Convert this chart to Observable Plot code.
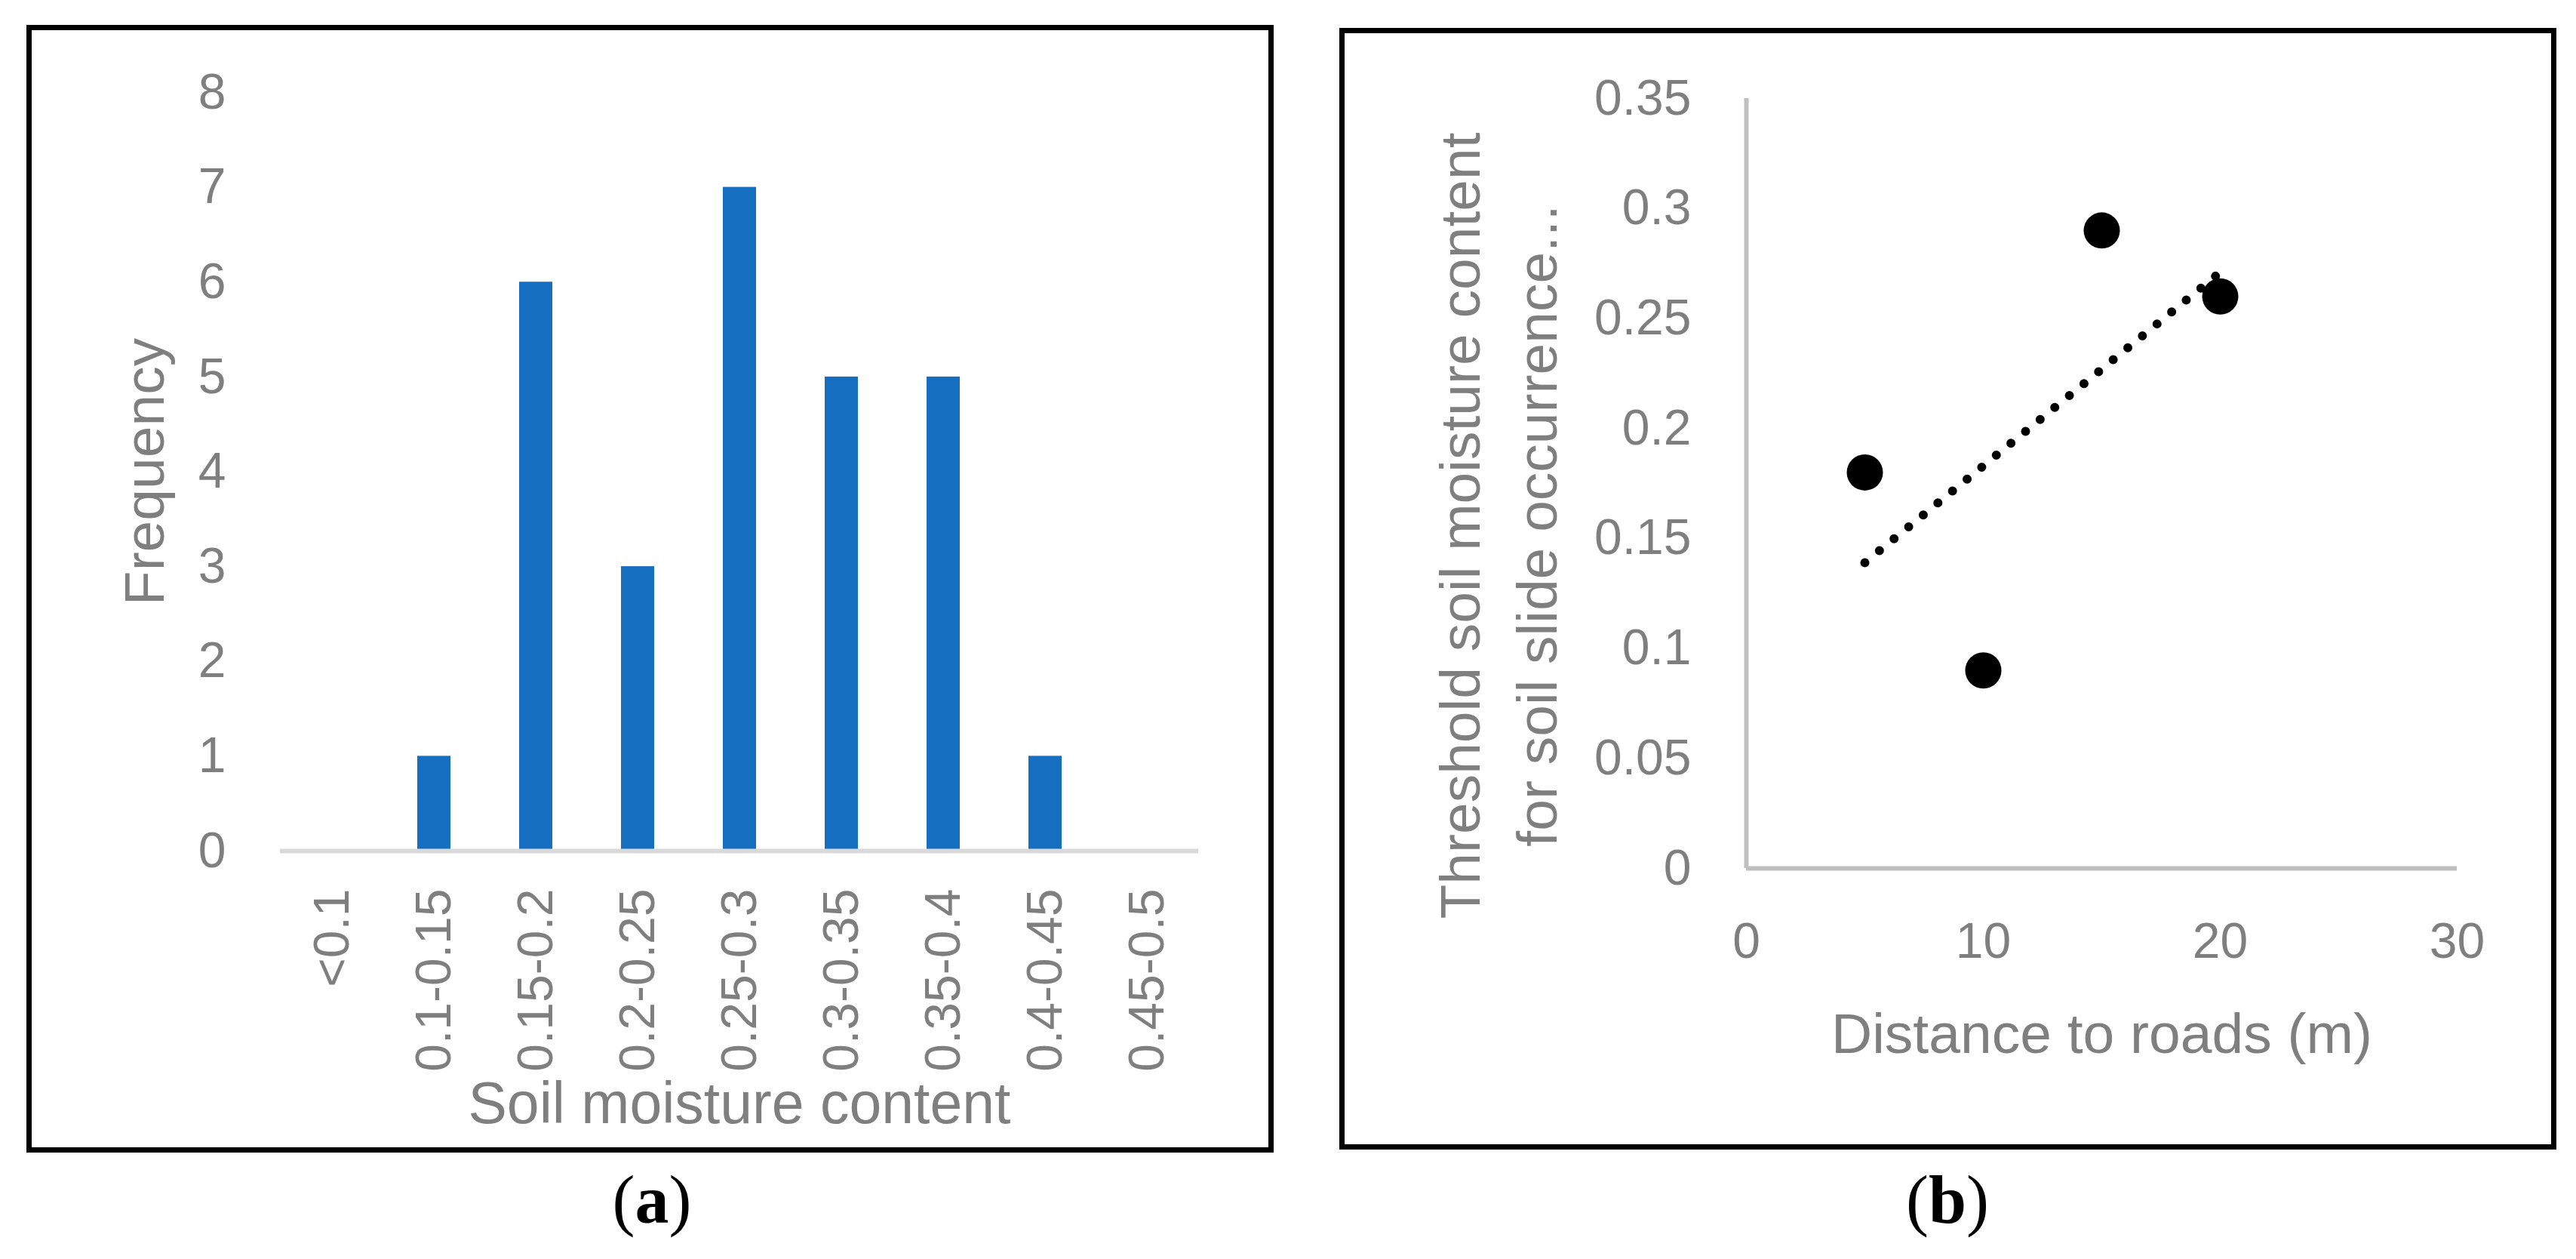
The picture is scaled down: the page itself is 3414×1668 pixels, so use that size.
<!DOCTYPE html>
<html>
<head>
<meta charset="utf-8">
<script src="https://cdn.jsdelivr.net/npm/d3@7"></script>
<script src="https://cdn.jsdelivr.net/npm/@observablehq/plot@0.6"></script>
<style>
html, body { margin: 0; padding: 0; background: #fff; overflow: hidden; }
#page { position: relative; width: 3414px; height: 1668px; background: #fff; }
.panel { position: absolute; top: 0; }
.box { position: absolute; border: 7px solid #000; box-sizing: border-box; pointer-events: none; }
.cap { position: absolute; font-family: "Liberation Serif", "Times New Roman", serif; font-size: 90px; line-height: 90px; transform: translateX(-50%); white-space: nowrap; color: #000; }
</style>
</head>
<body>
<div id="page"></div>
<script>
// ---- data: panel (a) histogram ----
const categories = ["<0.1", "0.1-0.15", "0.15-0.2", "0.2-0.25", "0.25-0.3", "0.3-0.35", "0.35-0.4", "0.4-0.45", "0.45-0.5"];
const frequencies = [0, 1, 6, 3, 7, 5, 5, 1, 0];
const frequencyTicks = [0, 1, 2, 3, 4, 5, 6, 7, 8];
const xTitleA = "Soil moisture content";
const yTitleA = "Frequency";

// ---- data: panel (b) scatter ----
const distances = [5, 10, 15, 20];
const thresholds = [0.18, 0.09, 0.29, 0.26];
const distanceTicks = [0, 10, 20, 30];
const thresholdTicks = [0, 0.05, 0.1, 0.15, 0.2, 0.25, 0.3, 0.35];
const thresholdTickLabels = ["0", "0.05", "0.1", "0.15", "0.2", "0.25", "0.3", "0.35"];
const xTitleB = "Distance to roads (m)";
const yTitleB = "Threshold soil moisture content\nfor soil slide occurrence...";

const FONT = '"Liberation Sans", Arial, sans-serif';
const GRAY = "#7f7f7f";
const BLUE = "#166ec1";

const page = document.getElementById("page");

// ---------- Panel (a) ----------
const barData = categories.map((c, i) => ({category: c, frequency: frequencies[i]}));
const plotA = Plot.plot({
  width: 1720,
  height: 1668,
  marginLeft: 371,
  marginRight: 132,
  marginTop: 122,
  marginBottom: 541,
  style: {fontFamily: FONT, fontSize: "66px", color: GRAY, background: "transparent", overflow: "visible"},
  x: {type: "band", domain: categories, paddingInner: 0.677, paddingOuter: 0.3385, align: 0.5},
  y: {domain: [0, 8]},
  marks: [
    Plot.barY(barData, {x: "category", y: "frequency", fill: BLUE}),
    Plot.ruleY([0], {stroke: "#d9d9d9", strokeWidth: 6}),
    Plot.axisY({ticks: frequencyTicks, tickSize: 0, tickPadding: 72, label: null}),
    Plot.axisX({tickRotate: -90, tickSize: 0, tickPadding: 50, label: null}),
    Plot.text([yTitleA], {text: d => d, frameAnchor: "left", textAnchor: "middle", lineAnchor: "middle", rotate: -90, dx: -179, fontSize: 75, fill: GRAY}),
    Plot.text([xTitleA], {text: d => d, frameAnchor: "bottom", textAnchor: "middle", lineAnchor: "middle", dy: 336, fontSize: 77, fill: GRAY})
  ]
});
const wrapA = document.createElement("div");
wrapA.className = "panel";
wrapA.style.left = "0px";
wrapA.appendChild(plotA);
page.appendChild(wrapA);

// ---------- Panel (b) ----------
const points = distances.map((d, i) => ({distance: d, threshold: thresholds[i]}));
const plotB = Plot.plot({
  width: 1694,
  height: 1668,
  marginLeft: 594,
  marginRight: 158,
  marginTop: 130,
  marginBottom: 518,
  style: {fontFamily: FONT, fontSize: "66px", color: GRAY, background: "transparent", overflow: "visible"},
  x: {domain: [0, 30]},
  y: {domain: [0, 0.35]},
  marks: [
    Plot.ruleX([0], {stroke: "#bfbfbf", strokeWidth: 6}),
    Plot.ruleY([0], {stroke: "#bfbfbf", strokeWidth: 6}),
    Plot.linearRegressionY(points, {x: "distance", y: "threshold", ci: 0, stroke: "#000", strokeWidth: 12, strokeDasharray: "0 25", strokeLinecap: "round"}),
    Plot.dot(points, {x: "distance", y: "threshold", r: 24, fill: "#000", stroke: null}),
    Plot.axisY({ticks: thresholdTicks, tickFormat: d => thresholdTickLabels[thresholdTicks.indexOf(d)], tickSize: 0, tickPadding: 73, label: null}),
    Plot.axisX({ticks: distanceTicks, tickSize: 0, tickPadding: 72, label: null}),
    Plot.text([xTitleB], {text: d => d, frameAnchor: "bottom", textAnchor: "middle", lineAnchor: "middle", dy: 220, fontSize: 75, fill: GRAY}),
    Plot.text([yTitleB], {text: d => d, frameAnchor: "left", textAnchor: "middle", lineAnchor: "middle", rotate: -90, dx: -335, dy: 56, lineHeight: 1.36, fontSize: 75, fill: GRAY})
  ]
});
const wrapB = document.createElement("div");
wrapB.className = "panel";
wrapB.style.left = "1720px";
wrapB.appendChild(plotB);
page.appendChild(wrapB);

// ---------- frames and captions ----------
function addBox(left, top, width, height) {
  const b = document.createElement("div");
  b.className = "box";
  Object.assign(b.style, {left: left + "px", top: top + "px", width: width + "px", height: height + "px"});
  page.appendChild(b);
}
addBox(35, 33, 1653, 1494);
addBox(1775, 37, 1613, 1486);

function addCaption(letter, centerX) {
  const c = document.createElement("div");
  c.className = "cap";
  c.style.left = centerX + "px";
  c.style.top = "1545px";
  c.innerHTML = "(<b>" + letter + "</b>)";
  page.appendChild(c);
}
addCaption("a", 864);
addCaption("b", 2581);
</script>
</body>
</html>
